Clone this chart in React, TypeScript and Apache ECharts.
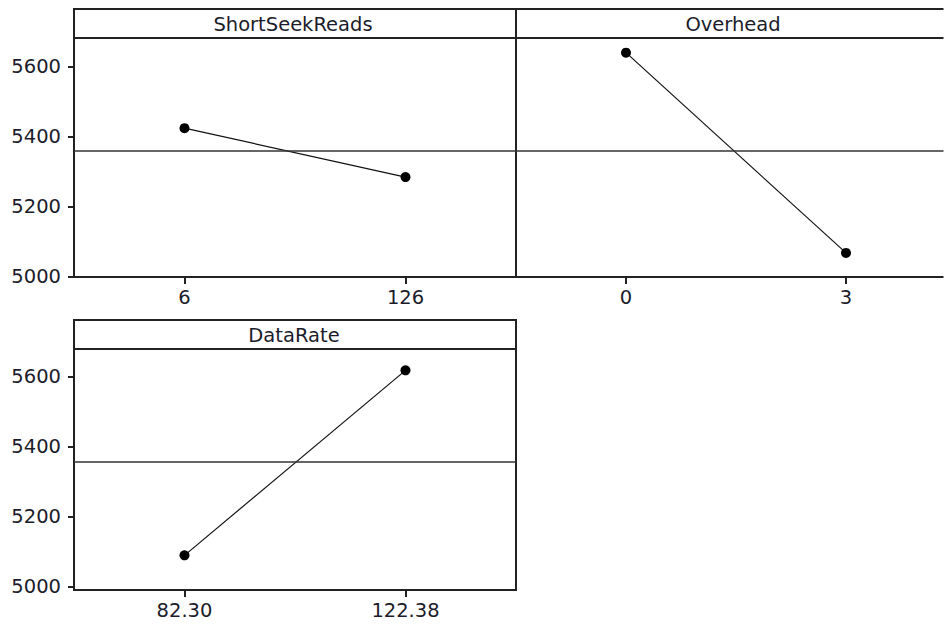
import React, { useEffect, useRef } from "react";
import * as echarts from "echarts";

const panelTitles = ["ShortSeekReads", "Overhead", "DataRate"];
const shortSeekLevels = ["6", "126"];
const shortSeekMeans = [5424, 5284];
const overheadLevels = ["0", "3"];
const overheadMeans = [5640, 5067];
const dataRateLevels = ["82.30", "122.38"];
const dataRateMeans = [5090, 5619];
const grandMean = 5358;
const yTickValues = [5000, 5200, 5400, 5600];
const topRange = [4998, 5682];
const bottomRange = [4991, 5680];

const FONT = "DejaVu Sans";
const TEXT = "#1c1c2a";
const FRAME = "#222";

export default function App() {
  const ref = useRef<HTMLDivElement>(null);

  useEffect(() => {
    if (!ref.current) return;
    const chart = echarts.init(ref.current, undefined, { renderer: "svg" });

    const grids = [
      { left: 74, top: 38, width: 442, height: 239 },
      { left: 516, top: 38, width: 440, height: 239 },
      { left: 74, top: 349, width: 442, height: 241 },
    ];

    const xAxisBase = (idx: number, data: string[]) => ({
      type: "category",
      gridIndex: idx,
      data,
      boundaryGap: true,
      axisLine: { show: false },
      axisTick: {
        show: true,
        alignWithLabel: true,
        length: 7,
        lineStyle: { color: FRAME, width: 2 },
      },
      axisLabel: {
        show: true,
        margin: 10,
        fontFamily: FONT,
        fontSize: 19.5,
        color: TEXT,
      },
      splitLine: { show: false },
    });

    const yAxisBase = (idx: number, range: number[], showLabels: boolean) => ({
      type: "value",
      gridIndex: idx,
      min: range[0],
      max: range[1],
      axisLine: { show: false },
      axisTick: {
        show: showLabels,
        length: 6,
        customValues: yTickValues,
        lineStyle: { color: FRAME, width: 2 },
      },
      axisLabel: {
        show: showLabels,
        customValues: yTickValues,
        formatter: (v: number) => String(Math.round(v)),
        margin: 13,
        fontFamily: FONT,
        fontSize: 19.5,
        color: TEXT,
      },
      splitLine: { show: false },
    });

    const seriesBase = (idx: number, data: number[]) => ({
      type: "line",
      xAxisIndex: idx,
      yAxisIndex: idx,
      data,
      symbol: "circle",
      symbolSize: 10,
      itemStyle: { color: "#000" },
      lineStyle: { color: "#111", width: 1.2 },
      silent: true,
      markLine: {
        silent: true,
        symbol: "none",
        label: { show: false },
        lineStyle: { color: "#333", width: 1.5, type: "solid" },
        data: [{ yAxis: grandMean }],
      },
    });

    const headerRect = (x: number, y: number, w: number, h: number) => ({
      type: "rect",
      shape: { x, y, width: w, height: h },
      style: { fill: "none", stroke: FRAME, lineWidth: 2 },
      silent: true,
    });

    const headerText = (cx: number, cy: number, text: string) => ({
      type: "text",
      x: cx,
      y: cy,
      style: {
        text,
        fill: TEXT,
        font: `19.5px "${FONT}"`,
        align: "center",
        verticalAlign: "middle",
      },
      silent: true,
    });

    chart.setOption({
      animation: false,
      backgroundColor: "#fff",
      grid: grids.map((g) => ({
        ...g,
        show: true,
        borderColor: FRAME,
        borderWidth: 2,
        backgroundColor: "transparent",
        containLabel: false,
        outerBoundsMode: "none",
      })),
      xAxis: [
        xAxisBase(0, shortSeekLevels),
        xAxisBase(1, overheadLevels),
        xAxisBase(2, dataRateLevels),
      ],
      yAxis: [
        yAxisBase(0, topRange, true),
        yAxisBase(1, topRange, false),
        yAxisBase(2, bottomRange, true),
      ],
      series: [
        seriesBase(0, shortSeekMeans),
        seriesBase(1, overheadMeans),
        seriesBase(2, dataRateMeans),
      ],
      graphic: [
        headerRect(74, 9, 442, 29),
        headerRect(516, 9, 440, 29),
        headerRect(74, 320, 442, 29),
        headerText(293, 24, panelTitles[0]),
        headerText(733, 24, panelTitles[1]),
        headerText(294, 335, panelTitles[2]),
        {
          type: "rect",
          z: 1000,
          shape: { x: 943.5, y: 0, width: 60, height: 300 },
          style: { fill: "#fff" },
          silent: true,
        },
      ],
    });

    return () => chart.dispose();
  }, []);

  return (
    <div
      style={{
        position: "fixed",
        left: 0,
        top: 0,
        width: 945,
        height: 625,
        overflow: "hidden",
        background: "#fff",
      }}
    >
      <div ref={ref} style={{ width: 990, height: 625 }} />
    </div>
  );
}
